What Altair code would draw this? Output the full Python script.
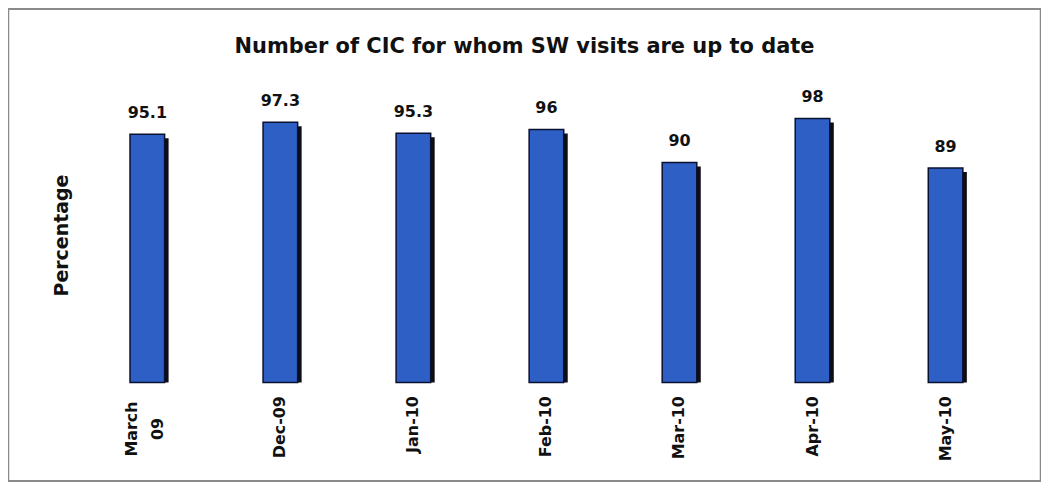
import altair as alt
import pandas as pd

categories = ["March 09", "Dec-09", "Jan-10", "Feb-10", "Mar-10", "Apr-10", "May-10"]
values = [95.1, 97.3, 95.3, 96, 90, 98, 89]
label_text = ["95.1", "97.3", "95.3", "96", "90", "98", "89"]

df = pd.DataFrame({"month": categories, "pct": values, "lbl": label_text})

FONT = "DejaVu Sans"
IS_TWO_LINE = "datum.value == 'March 09'"

x = alt.X(
    "month:N",
    sort=categories,
    scale=alt.Scale(range=[73, 1007], paddingInner=0.74, paddingOuter=0.37),
    axis=alt.Axis(
        title=None,
        orient="bottom",
        offset=-90,
        labelAngle=-90,
        labelFont=FONT,
        labelFontSize=16,
        labelFontWeight="bold",
        labelColor="#111111",
        labelPadding={"condition": {"test": IS_TWO_LINE, "value": 37}, "value": 4},
        labelAlign={"condition": {"test": IS_TWO_LINE, "value": "center"}, "value": "right"},
        labelOffset={"condition": {"test": IS_TWO_LINE, "value": -15}, "value": 0},
        labelLineHeight=26,
        labelBaseline="middle",
        labelExpr="datum.value == 'March 09' ? ['March', '09'] : datum.label",
        domain=False,
        ticks=False,
        grid=False,
    ),
)

yscale = alt.Scale(domain=[50, 100], range=[375, 99], zero=False, nice=False)

y = alt.Y(
    "pct:Q",
    scale=yscale,
    axis=alt.Axis(
        title="Percentage",
        labels=False,
        ticks=False,
        domain=False,
        grid=False,
        titleFont=FONT,
        titleFontSize=19,
        titleFontWeight="bold",
        titleColor="#111111",
        titleX=54,
        titleY=227,
        titleAngle=-90,
        titleAlign="center",
        titleBaseline="middle",
    ),
)

base = alt.Chart(df)

shadow = base.mark_bar(color="#0d0d14", xOffset=4, yOffset=4).encode(
    x=x, y=y, y2=alt.datum(50)
)

bars = base.mark_bar(color="#2d5fc4", stroke="#0a1030", strokeWidth=1.5).encode(
    x=x, y=y, y2=alt.datum(50)
)

labels = base.mark_text(
    font=FONT, fontSize=16, fontWeight="bold", color="#111111",
    baseline="alphabetic", dy=-16,
).encode(x=x, y=y, text="lbl:N")

chart = (
    alt.layer(shadow, bars, labels)
    .properties(
        width=1036,
        height=474,
        padding=0,
        title=alt.Title(
            "Number of CIC for whom SW visits are up to date",
            font=FONT,
            fontSize=21,
            fontWeight="bold",
            color="#111111",
            anchor="middle",
            offset=-48,
        ),
        background="white",
    )
    .configure_view(stroke="#8a8a8a", strokeWidth=2.5)
)

chart.save("out.html", embed_options={"renderer": "svg", "actions": False})
